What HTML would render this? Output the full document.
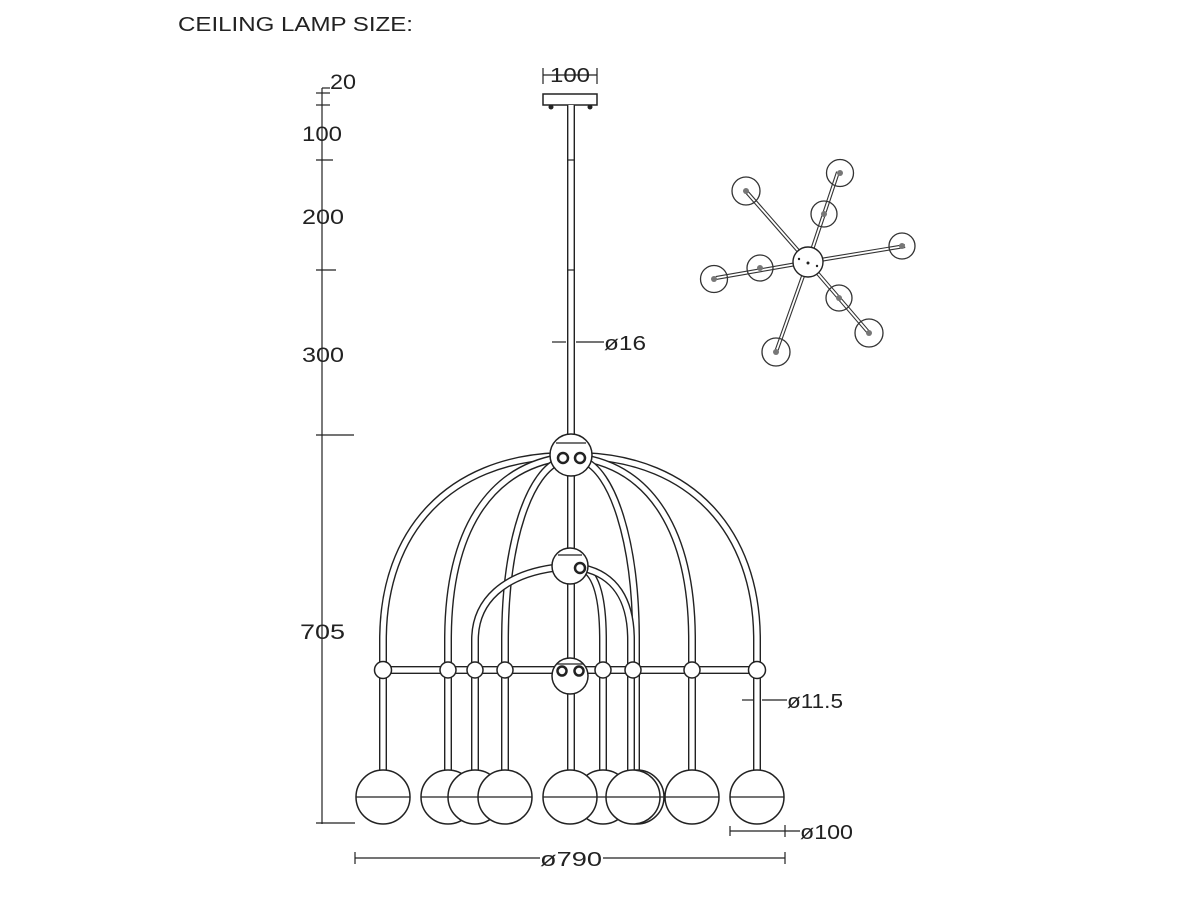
<!DOCTYPE html>
<html><head><meta charset="utf-8"><style>
html,body{margin:0;padding:0;background:#fff;}
svg{display:block;}
text{font-family:"Liberation Sans",Arial,sans-serif;fill:#222;}
.t{fill:none;stroke:#222;stroke-width:8;}
.w{fill:none;stroke:#fff;stroke-width:5.2;}
.l{fill:none;stroke:#222;stroke-width:1.2;}
.c{fill:#fff;stroke:#222;stroke-width:1.5;}
</style></head><body>
<svg width="1200" height="900" viewBox="0 0 1200 900">
<text x="178" y="31" font-size="20" textLength="235" lengthAdjust="spacingAndGlyphs">CEILING LAMP SIZE:</text>

<!-- left dimension -->
<g class="l">
<line x1="322" y1="88" x2="322" y2="824"/>
<line x1="316" y1="93" x2="330" y2="93"/><line x1="322" y1="88" x2="330" y2="88"/>
<line x1="316" y1="105" x2="330" y2="105"/>
<line x1="316" y1="160" x2="333" y2="160"/>
<line x1="316" y1="270" x2="336" y2="270"/>
<line x1="316" y1="435" x2="354" y2="435"/>
<line x1="316" y1="823" x2="355" y2="823"/>
</g>
<text x="330" y="89" font-size="21" textLength="26" lengthAdjust="spacingAndGlyphs">20</text>
<text x="302" y="141" font-size="21" textLength="40" lengthAdjust="spacingAndGlyphs">100</text>
<text x="302" y="224" font-size="21" textLength="42" lengthAdjust="spacingAndGlyphs">200</text>
<text x="302" y="362" font-size="21" textLength="42" lengthAdjust="spacingAndGlyphs">300</text>
<text x="300" y="639" font-size="21" textLength="45" lengthAdjust="spacingAndGlyphs">705</text>

<!-- top 100 -->
<g class="l">
<line x1="543" y1="75" x2="597" y2="75"/><line x1="543" y1="68" x2="543" y2="84"/><line x1="597" y1="68" x2="597" y2="84"/>
</g>
<text x="550" y="82" font-size="20" textLength="40" lengthAdjust="spacingAndGlyphs">100</text>
<rect x="543" y="94" width="54" height="11" class="c"/>
<circle cx="551" cy="107" r="2.5" fill="#222"/><circle cx="590" cy="107" r="2.5" fill="#222"/>

<!-- central rod -->
<line x1="571" y1="105" x2="571" y2="775" class="t"/>
<line x1="571" y1="105" x2="571" y2="775" class="w"/>
<line x1="567" y1="160" x2="575" y2="160" class="l"/><line x1="567" y1="270" x2="575" y2="270" class="l"/>

<!-- Ø16 -->
<g class="l"><line x1="552" y1="342" x2="566" y2="342"/><line x1="576" y1="342" x2="604" y2="342"/></g>
<text x="604" y="350" font-size="20" textLength="42" lengthAdjust="spacingAndGlyphs">ø16</text>

<!-- arcs -->
<g>
<path class="t" d="M558 456 C450 460 383 530 383 640 L383 772"/><path class="w" d="M558 456 C450 460 383 530 383 640 L383 772"/>
<path class="t" d="M558 458 C490 470 448 530 448 640 L448 772"/><path class="w" d="M558 458 C490 470 448 530 448 640 L448 772"/>
<path class="t" d="M562 460 C530 470 505 540 505 640 L505 772"/><path class="w" d="M562 460 C530 470 505 540 505 640 L505 772"/>
<path class="t" d="M584 456 C690 460 757 530 757 640 L757 772"/><path class="w" d="M584 456 C690 460 757 530 757 640 L757 772"/>
<path class="t" d="M584 458 C650 470 692 530 692 640 L692 772"/><path class="w" d="M584 458 C650 470 692 530 692 640 L692 772"/>
<path class="t" d="M582 460 C612 470 636 540 636 640 L636 772"/><path class="w" d="M582 460 C612 470 636 540 636 640 L636 772"/>
<path class="t" d="M553 568 C505 575 475 600 475 640 L475 772"/><path class="w" d="M553 568 C505 575 475 600 475 640 L475 772"/>
<path class="t" d="M583 568 C597 575 603 600 603 640 L603 772"/><path class="w" d="M583 568 C597 575 603 600 603 640 L603 772"/>
<path class="t" d="M583 568 C615 575 631 600 631 640 L631 772"/><path class="w" d="M583 568 C615 575 631 600 631 640 L631 772"/>
</g>
<!-- horizontal bar -->
<line x1="383" y1="670" x2="757" y2="670" class="t"/><line x1="383" y1="670" x2="757" y2="670" class="w"/>

<!-- hubs -->
<circle cx="571" cy="455" r="21" class="c"/><line x1="556" y1="443" x2="586" y2="443" class="l"/>
<circle cx="563" cy="458" r="5" fill="#fff" stroke="#222" stroke-width="2.5"/><circle cx="580" cy="458" r="5" fill="#fff" stroke="#222" stroke-width="2.5"/>
<circle cx="570" cy="566" r="18" class="c"/><line x1="558" y1="555" x2="582" y2="555" class="l"/>
<circle cx="580" cy="568" r="5" fill="#fff" stroke="#222" stroke-width="2.5"/>
<circle cx="570" cy="676" r="18" class="c"/><line x1="557" y1="664" x2="583" y2="664" class="l"/>
<circle cx="562" cy="671" r="4.5" fill="#fff" stroke="#222" stroke-width="2.5"/><circle cx="579" cy="671" r="4.5" fill="#fff" stroke="#222" stroke-width="2.5"/>

<!-- joints -->
<g class="c">
<circle cx="383" cy="670" r="8.5"/><circle cx="448" cy="670" r="8"/><circle cx="475" cy="670" r="8"/><circle cx="505" cy="670" r="8"/>
<circle cx="603" cy="670" r="8"/><circle cx="633" cy="670" r="8"/><circle cx="692" cy="670" r="8"/><circle cx="757" cy="670" r="8.5"/>
</g>

<!-- spheres -->
<g>
<g><circle cx="383" cy="797" r="27" class="c"/><line x1="356" y1="797" x2="410" y2="797" class="l"/></g>
<g><circle cx="448" cy="797" r="27" class="c"/><line x1="421" y1="797" x2="475" y2="797" class="l"/></g>
<g><circle cx="475" cy="797" r="27" class="c"/><line x1="448" y1="797" x2="502" y2="797" class="l"/></g>
<g><circle cx="505" cy="797" r="27" class="c"/><line x1="478" y1="797" x2="532" y2="797" class="l"/></g>
<g><circle cx="603" cy="797" r="27" class="c"/><line x1="576" y1="797" x2="630" y2="797" class="l"/></g>
<g><circle cx="570" cy="797" r="27" class="c"/><line x1="543" y1="797" x2="597" y2="797" class="l"/></g>
<g><circle cx="637" cy="797" r="27" class="c"/><line x1="610" y1="797" x2="664" y2="797" class="l"/></g>
<g><circle cx="633" cy="797" r="27" class="c"/><line x1="606" y1="797" x2="660" y2="797" class="l"/></g>
<g><circle cx="692" cy="797" r="27" class="c"/><line x1="665" y1="797" x2="719" y2="797" class="l"/></g>
<g><circle cx="757" cy="797" r="27" class="c"/><line x1="730" y1="797" x2="784" y2="797" class="l"/></g>
</g>

<!-- Ø11.5 -->
<g class="l"><line x1="742" y1="700" x2="753" y2="700"/><line x1="762" y1="700" x2="787" y2="700"/></g>
<text x="787" y="708" font-size="20" textLength="56" lengthAdjust="spacingAndGlyphs">ø11.5</text>
<!-- Ø100 -->
<g class="l"><line x1="730" y1="831" x2="800" y2="831"/><line x1="730" y1="826" x2="730" y2="836"/><line x1="785" y1="825" x2="785" y2="837"/></g>
<text x="800" y="839" font-size="20" textLength="53" lengthAdjust="spacingAndGlyphs">ø100</text>
<!-- Ø790 -->
<g class="l"><line x1="355" y1="858" x2="540" y2="858"/><line x1="603" y1="858" x2="785" y2="858"/><line x1="355" y1="852" x2="355" y2="864"/><line x1="785" y1="852" x2="785" y2="864"/></g>
<text x="540" y="866" font-size="20" textLength="62" lengthAdjust="spacingAndGlyphs">ø790</text>

<!-- top view -->
<g>
<g stroke="#333" stroke-width="4" fill="none">
<line x1="808" y1="262" x2="745" y2="190"/><line x1="808" y1="262" x2="838" y2="172"/>
<line x1="808" y1="262" x2="905" y2="246"/><line x1="808" y1="262" x2="716" y2="278"/>
<line x1="808" y1="262" x2="869" y2="333"/><line x1="808" y1="262" x2="776" y2="352"/>
</g>
<g stroke="#fff" stroke-width="1.8" fill="none">
<line x1="808" y1="262" x2="745" y2="190"/><line x1="808" y1="262" x2="838" y2="172"/>
<line x1="808" y1="262" x2="905" y2="246"/><line x1="808" y1="262" x2="716" y2="278"/>
<line x1="808" y1="262" x2="869" y2="333"/><line x1="808" y1="262" x2="776" y2="352"/>
</g>
<g fill="none" stroke="#333" stroke-width="1.3">
<circle cx="746" cy="191" r="14"/><circle cx="840" cy="173" r="13.5"/><circle cx="824" cy="214" r="13"/>
<circle cx="902" cy="246" r="13"/><circle cx="714" cy="279" r="13.5"/><circle cx="760" cy="268" r="13"/>
<circle cx="839" cy="298" r="13"/><circle cx="869" cy="333" r="14"/><circle cx="776" cy="352" r="14"/>
</g>
<g fill="#777">
<circle cx="746" cy="191" r="3"/><circle cx="840" cy="173" r="3"/><circle cx="824" cy="214" r="3"/>
<circle cx="902" cy="246" r="3"/><circle cx="714" cy="279" r="3"/><circle cx="760" cy="268" r="3"/>
<circle cx="839" cy="298" r="3"/><circle cx="869" cy="333" r="3"/><circle cx="776" cy="352" r="3"/>
</g>
<circle cx="808" cy="262" r="15" fill="#fff" stroke="#222" stroke-width="1.4"/>
<circle cx="799" cy="259" r="1.2" fill="#222"/><circle cx="808" cy="263" r="1.5" fill="#222"/><circle cx="817" cy="266" r="1.2" fill="#222"/>
</g>
</svg>
</body></html>
